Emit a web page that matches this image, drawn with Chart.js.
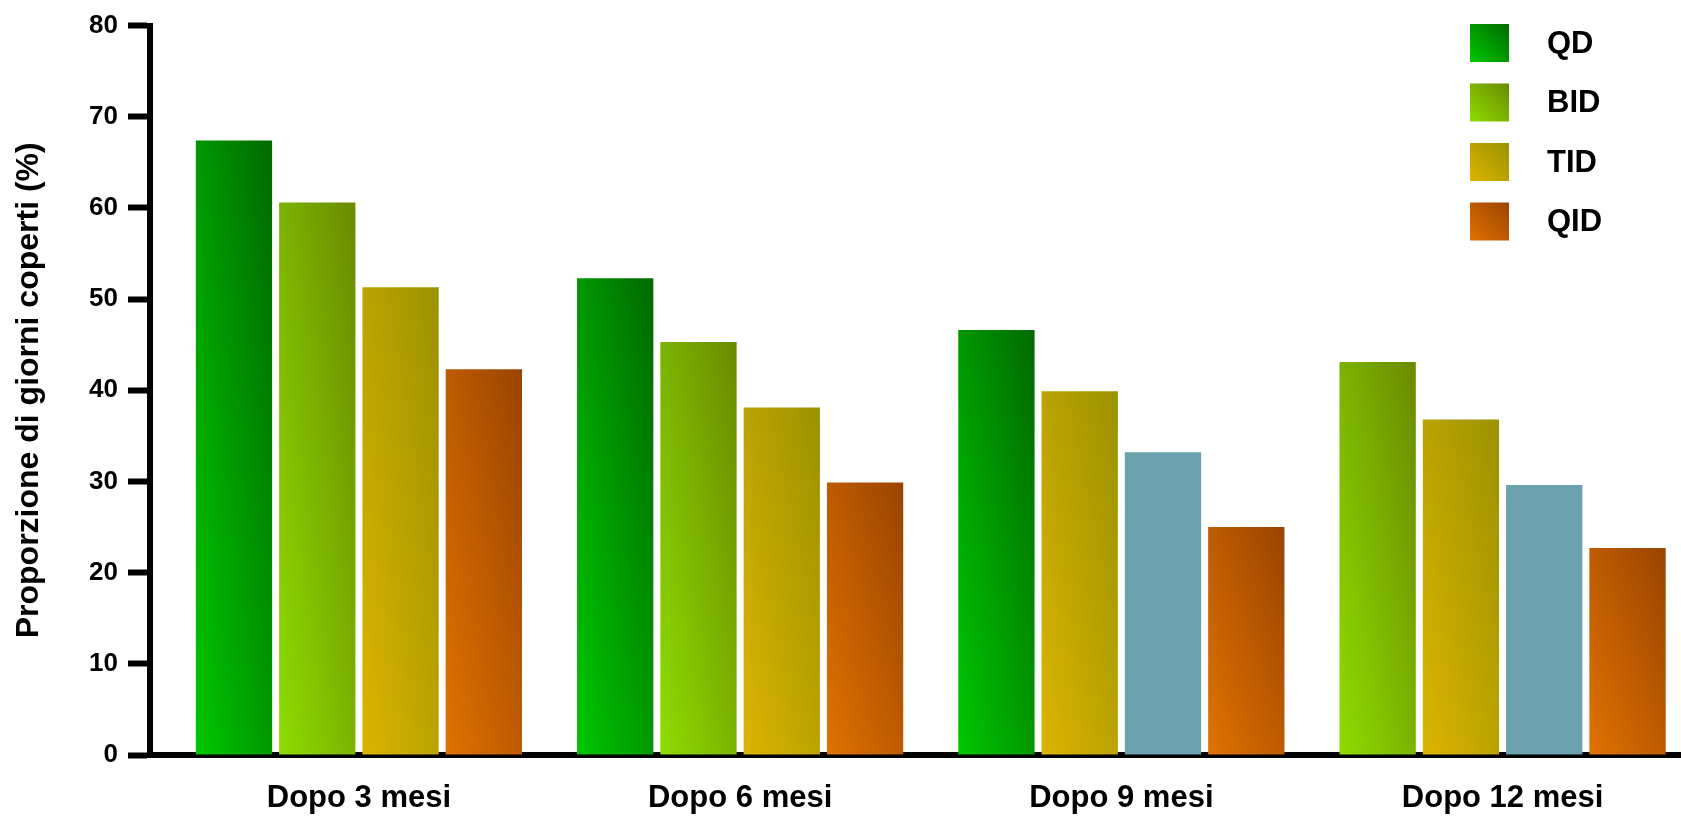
<!DOCTYPE html>
<html>
<head>
<meta charset="utf-8">
<script src="https://cdn.jsdelivr.net/npm/chart.js@4/dist/chart.umd.min.js"></script>
<style>
  html, body { margin: 0; padding: 0; background: #ffffff; overflow: hidden; }
  canvas { display: block; }
</style>
</head>
<body>
<canvas id="chart" width="1681" height="819"></canvas>
<script>
// Periodi di osservazione (gruppi sull'asse x)
const categories = ['Dopo 3 mesi', 'Dopo 6 mesi', 'Dopo 9 mesi', 'Dopo 12 mesi'];

// Valori (%) per posizione della barra all'interno di ogni gruppo
const firstBar  = [67.4, 52.3, 46.6, 43.1];
const secondBar = [60.6, 45.3, 39.9, 36.8];
const thirdBar  = [51.3, 38.1, 33.2, 29.6];
const fourthBar = [42.3, 29.9, 25.0, 22.7];

// Schema posologico rappresentato da ciascuna barra, gruppo per gruppo
const groupRegimens = [
  ['QD', 'BID', 'TID', 'QID'],
  ['QD', 'BID', 'TID', 'QID'],
  ['QD', 'TID', 'ALTRO', 'QID'],
  ['BID', 'TID', 'ALTRO', 'QID']
];

// Voci della legenda
const legendLabels = ['QD', 'BID', 'TID', 'QID'];

// Asse y
const yTicks = { min: 0, max: 80, step: 10 };
const yTitle = 'Proporzione di giorni coperti (%)';

// Colori: sfumatura dal chiaro (in basso a sinistra) allo scuro (in alto a destra)
const palette = {
  QD:    { start: '#00c600', end: '#006a00' },
  BID:   { start: '#8edc00', end: '#6a8a00' },
  TID:   { start: '#dcb400', end: '#9a9200' },
  QID:   { start: '#e07200', end: '#9a4400' },
  ALTRO: { start: '#6ca2ae', end: null }
};

const FONT = "'Liberation Sans', Arial, Helvetica, sans-serif";
Chart.defaults.font.family = FONT;
Chart.defaults.color = '#000';

// Riempimento con sfumatura riferita al riquadro dell'elemento
function fillFor(ctx, key, left, top, right, bottom) {
  const c = palette[key];
  if (!c.end) return c.start;
  const w = right - left, h = bottom - top;
  if (w <= 0 || h <= 0) return c.start;
  const k = 2 * w * h / (w * w + h * h);
  const g = ctx.createLinearGradient(left, bottom, left + h * k, bottom - w * k);
  g.addColorStop(0, c.start);
  g.addColorStop(1, c.end);
  return g;
}

const barSeries = [firstBar, secondBar, thirdBar, fourthBar];
const datasets = barSeries.map((values, pos) => ({
  label: 'Barra ' + (pos + 1),
  data: values.map((v, g) => ({ x: g, y: v })),
  backgroundColor: (c) => palette[groupRegimens[c.dataIndex] ? groupRegimens[c.dataIndex][pos] : 'QD'].start,
  borderWidth: 0,
  categoryPercentage: 0.874,
  barPercentage: 0.916
}));

const gradientBars = {
  id: 'gradientBars',
  beforeDatasetsDraw(chart) {
    const ctx = chart.ctx;
    chart.data.datasets.forEach((ds, di) => {
      const meta = chart.getDatasetMeta(di);
      meta.data.forEach((el, i) => {
        const p = el.getProps(['x', 'y', 'base', 'width'], true);
        const key = groupRegimens[i][di];
        el.options.backgroundColor = fillFor(ctx, key,
          p.x - p.width / 2, Math.min(p.y, p.base),
          p.x + p.width / 2, Math.max(p.y, p.base));
      });
    });
  }
};

const squareLegend = {
  id: 'squareLegend',
  afterDraw(chart) {
    const ctx = chart.ctx;
    const boxLeft = 1470, boxW = 39, boxH = 38, firstTop = 24, rowStep = 59.5, textLeft = 1547;
    ctx.save();
    ctx.font = 'bold 31px ' + FONT;
    ctx.textAlign = 'left';
    ctx.textBaseline = 'middle';
    legendLabels.forEach((lab, i) => {
      const top = firstTop + i * rowStep;
      ctx.fillStyle = fillFor(ctx, lab, boxLeft, top, boxLeft + boxW, top + boxH);
      ctx.fillRect(boxLeft, top, boxW, boxH);
      ctx.fillStyle = '#000';
      ctx.fillText(lab, textLeft, top + boxH / 2 + 1);
    });
    ctx.restore();
  }
};

new Chart(document.getElementById('chart'), {
  type: 'bar',
  data: { datasets },
  plugins: [gradientBars, squareLegend],
  options: {
    responsive: false,
    animation: false,
    events: [],
    layout: { padding: { top: 21, right: 0, bottom: 0, left: 0 } },
    plugins: {
      legend: { display: false },
      tooltip: { enabled: false }
    },
    scales: {
      x: {
        type: 'linear',
        position: 'bottom',
        offset: false,
        min: -0.548,
        max: 3.468,
        grid: { display: false, drawTicks: false, offset: false },
        border: { display: true, color: '#000', width: 6 },
        ticks: {
          stepSize: 1,
          includeBounds: false,
          autoSkip: false,
          maxRotation: 0,
          minRotation: 0,
          padding: 25,
          color: '#000',
          font: { size: 31, weight: 'bold' },
          callback: (v) => Number.isInteger(v) && categories[v] ? categories[v] : ''
        },
        afterFit: (s) => { s.height = 64; }
      },
      y: {
        min: yTicks.min,
        max: yTicks.max,
        grid: {
          drawOnChartArea: false,
          drawTicks: true,
          tickLength: 22,
          tickWidth: 6,
          tickColor: '#000'
        },
        border: { display: true, color: '#000', width: 6 },
        ticks: {
          stepSize: yTicks.step,
          padding: 10,
          color: '#000',
          font: { size: 26, weight: 'bold' }
        },
        title: {
          display: true,
          text: yTitle,
          color: '#000',
          font: { size: 32, weight: 'bold' },
          padding: { top: 10, bottom: 0 }
        },
        afterFit: (s) => { s.width = 150; }
      }
    }
  }
});
</script>
</body>
</html>
